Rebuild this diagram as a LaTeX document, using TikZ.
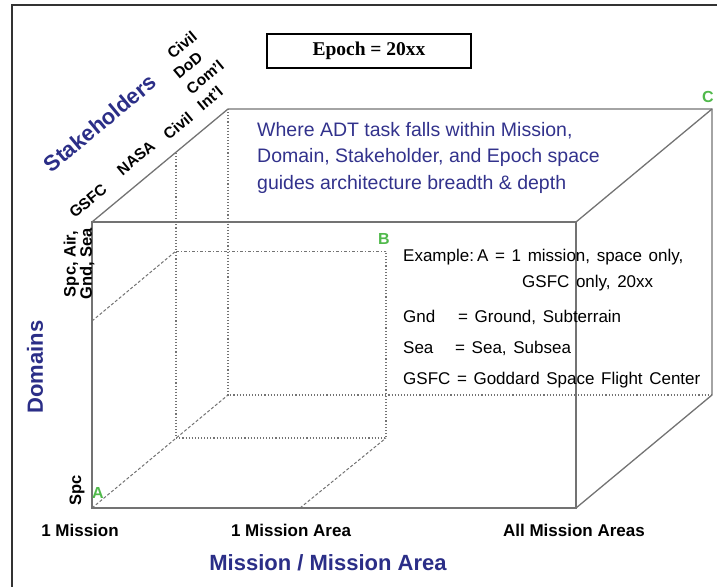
\documentclass[tikz,border=0pt]{standalone}
\usepackage{fontspec}
\setmainfont{Liberation Sans}
\newfontfamily\epochfont{Liberation Serif}
\newfontfamily\notefont{Liberation Sans}[WordSpace=1.4]
\usetikzlibrary{positioning}

\definecolor{axisblue}{RGB}{43,46,135}
\definecolor{textblue}{RGB}{50,50,140}
\definecolor{cornergreen}{RGB}{80,185,75}

\tikzset{
  solidedge/.style={draw=black!55, line width=1.3pt},
  hiddenedge/.style={draw=black!55, line width=1.1pt, dotted},
  depthedge/.style={draw=black!55, line width=1pt, dash pattern=on 3pt off 2pt},
  dashdotedge/.style={draw=black!55, line width=1pt, dash pattern=on 3pt off 2pt on 1pt off 2pt},
  axistitle/.style={text=axisblue, font=\bfseries\fontsize{22}{24}\selectfont, inner sep=0pt},
  ticklabel/.style={font=\bfseries\fontsize{17}{15}\selectfont, inner sep=0pt},
  domlabel/.style={font=\bfseries\fontsize{16.5}{15}\selectfont, inner sep=0pt},
  stakelabel/.style={font=\bfseries\fontsize{15.5}{15}\selectfont, inner sep=0pt, rotate=39.7},
  corner/.style={text=cornergreen, font=\bfseries\fontsize{16}{18}\selectfont, inner sep=0pt},
  note/.style={anchor=west, font=\notefont\fontsize{17}{18}\selectfont, inner sep=0pt}
}

\begin{document}
\begin{tikzpicture}[x=1pt,y=-1pt]
  \useasboundingbox (0,0) rectangle (717,586);
  \draw[line width=1.5pt, black!80] (12,590) -- (12,5) -- (720,5); % frame

  % big cube
  \coordinate (fbl) at (92,508);
  \coordinate (fbr) at (576,508);
  \coordinate (ftr) at (576,222);
  \coordinate (ftl) at (92,222);
  \coordinate (bbl) at (228,395);
  \coordinate (bbr) at (712,395);
  \coordinate (btr) at (712,109);
  \coordinate (btl) at (228,109);

  \draw[hiddenedge] (btl) -- (bbl) -- (bbr);
  \draw[depthedge] (fbl) -- (bbl);
  \draw[solidedge] (fbl) rectangle (ftr);
  \draw[solidedge] (ftl) -- (btl) -- (btr) -- (bbr) -- (fbr);
  \draw[solidedge] (ftr) -- (btr);

  % inner box A - B
  \coordinate (itop) at (176,153);
  \coordinate (ibl) at (176,438);
  \coordinate (ibr) at (386,438);
  \coordinate (itl) at (176,251);
  \coordinate (itr) at (386,251);
  \coordinate (fdom) at (92,321);
  \coordinate (farea) at (300,508);

  \draw[hiddenedge] (itop) -- (ibl) -- (ibr) -- (itr);
  \draw[dashdotedge] (itl) -- (itr);
  \draw[depthedge] (fdom) -- (itl);
  \draw[depthedge] (farea) -- (ibr);

  \node[corner] (A) at (98,493) {A};
  \node[corner] (B) at (384,239) {B};
  \node[corner] (C) at (708,97) {C};

  % epoch box
  \node[draw, line width=1.8pt, minimum width=204pt, minimum height=34pt,
        font=\epochfont\bfseries\fontsize{19.5}{20}\selectfont] (epoch) at (369,51) {Epoch = 20xx};

  \node[anchor=north west, align=left, inner sep=0pt, text=textblue,
        font=\fontsize{19.5}{26.5}\selectfont] (where) at (257,122)
        {Where ADT task falls within Mission,\\Domain, Stakeholder, and Epoch space\\guides architecture breadth \& depth};

  % notes
  \node[note] (ex1) at (403,257) {\makebox[74pt][l]{Example:}\makebox[18pt][l]{A}= 1 mission, space only,};
  \node[note] (ex2) at (522,283) {GSFC only, 20xx};
  \node[note] (gnd) at (403,317) {\makebox[55pt][l]{Gnd}= Ground, Subterrain};
  \node[note] (sea) at (403,348) {\makebox[52pt][l]{Sea}= Sea, Subsea};
  \node[note] (gsfc) at (403,380) {GSFC = Goddard Space Flight Center};

  % axes
  \node[axistitle] (mission) at (328,563) {Mission / Mission Area};
  \node[axistitle, rotate=90] (domains) at (35,367) {Domains};
  \node[axistitle, rotate=39.7] (stake) at (100,123) {Stakeholders};

  \node[ticklabel] (m1) at (80,530) {1 Mission};
  \node[ticklabel] (m2) at (291,530) {1 Mission Area};
  \node[ticklabel] (m3) at (574,530) {All Mission Areas};

  \node[domlabel, rotate=90, align=center] (dall) at (79,264) {Spc, Air,\\Gnd, Sea};
  \node[domlabel, rotate=90] (dspc) at (77,490) {Spc};

  \node[stakelabel] (s1) at (88,201) {GSFC};
  \node[stakelabel] (s2) at (136,158) {NASA};
  \node[stakelabel] (s3) at (178,126) {Civil};
  \node[stakelabel] (s4) at (210,98) {Int'l};
  \node[stakelabel] (s5) at (205,77) {Com'l};
  \node[stakelabel] (s6) at (188,65) {DoD};
  \node[stakelabel] (s7) at (182,45) {Civil};
\end{tikzpicture}
\end{document}
